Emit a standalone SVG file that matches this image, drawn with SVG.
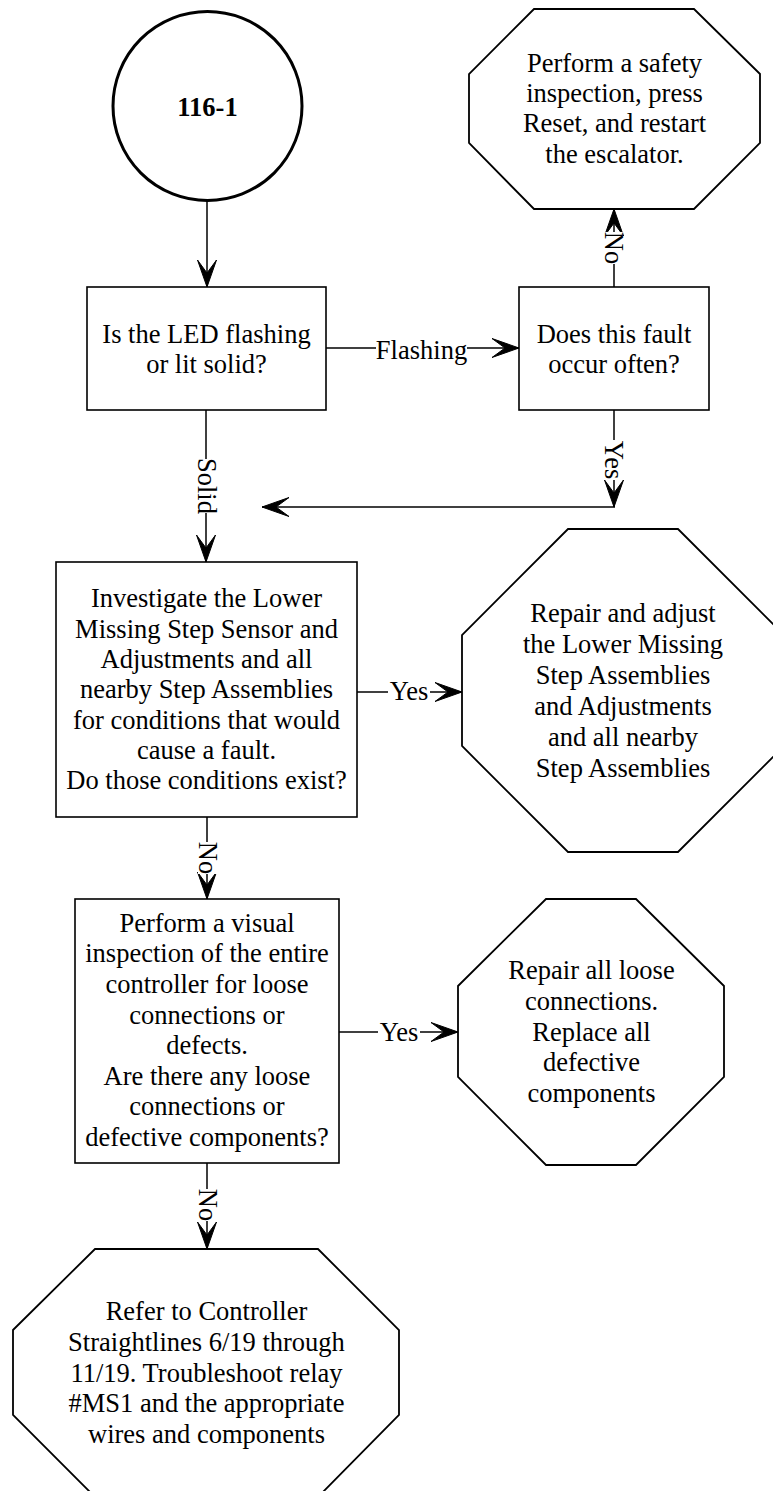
<svg xmlns="http://www.w3.org/2000/svg" width="773" height="1491" viewBox="0 0 773 1491">
  <style>
    .t { font-family: "Liberation Serif", "Times New Roman", serif; font-size: 26.5px; fill: #000; text-anchor: middle; }
    .b { font-weight: bold; }
    .box { fill: #fff; stroke: #000; stroke-width: 1.6; }
    .oct { fill: #fff; stroke: #000; stroke-width: 1.8; }
    .edge { fill: none; stroke: #000; stroke-width: 1.5; marker-end: url(#vee); }
    .plain { fill: none; stroke: #000; stroke-width: 1.5; }
    .lb { fill: #fff; stroke: none; }
  </style>
  <defs>
    <marker id="vee" viewBox="-28 -10 29 20" refX="0" refY="0" markerWidth="29" markerHeight="20" markerUnits="userSpaceOnUse" orient="auto" overflow="visible">
      <path d="M0,0 L-27,-9.5 L-14,0 L-27,9.5 Z" fill="#000" stroke="#000" stroke-width="1"/>
    </marker>
  </defs>

  <rect width="773" height="1491" fill="#fff"/>

  <!-- connectors -->
  <g id="connectors">
    <path class="edge" d="M207,201 L207,287"/>
    <path class="edge" d="M326,348 L519,348"/>
    <path class="edge" d="M614,287 L614,209"/>
    <path class="edge" d="M614,410 L614,507"/>
    <path class="edge" d="M615,507 L262,507"/>
    <path class="edge" d="M206,410 L206,562"/>
    <path class="edge" d="M357,692 L462,692"/>
    <path class="edge" d="M207,817 L207,899"/>
    <path class="edge" d="M339,1032 L458,1032"/>
    <path class="edge" d="M207,1163 L207,1249"/>

    <!-- edge labels -->
    <g>
      <rect class="lb" x="376" y="338" width="91" height="26"/>
      <text class="t" x="421.5" y="359">Flashing</text>
    </g>
    <g transform="translate(613,248) rotate(90)">
      <rect class="lb" x="-16" y="-10" width="32" height="19"/>
      <text class="t" x="0" y="8">No</text>
    </g>
    <g transform="translate(613,460) rotate(90)">
      <rect class="lb" x="-20" y="-10" width="40" height="19"/>
      <text class="t" x="0" y="8">Yes</text>
    </g>
    <g transform="translate(206,486) rotate(90)">
      <rect class="lb" x="-27" y="-11" width="54" height="20"/>
      <text class="t" x="0" y="8">Solid</text>
    </g>
    <g>
      <rect class="lb" x="388" y="680" width="42" height="24"/>
      <text class="t" x="409" y="700">Yes</text>
    </g>
    <g transform="translate(207,858) rotate(90)">
      <rect class="lb" x="-16" y="-10" width="32" height="19"/>
      <text class="t" x="0" y="8">No</text>
    </g>
    <g>
      <rect class="lb" x="378" y="1020" width="42" height="24"/>
      <text class="t" x="399" y="1040.5">Yes</text>
    </g>
    <g transform="translate(207,1205) rotate(90)">
      <rect class="lb" x="-16" y="-10" width="32" height="19"/>
      <text class="t" x="0" y="8">No</text>
    </g>
  </g>

  <!-- start connector circle -->
  <g id="start">
    <circle cx="207.5" cy="106" r="94.5" fill="#fff" stroke="#000" stroke-width="3"/>
    <text class="t b" x="207.5" y="116">116-1</text>
  </g>

  <g id="led-state">
    <rect class="box" x="87" y="287" width="239" height="123"/>
    <text class="t" x="206.5" y="342.7">Is the LED flashing</text>
    <text class="t" x="206.5" y="373.3">or lit solid?</text>
  </g>

  <g id="fault-often">
    <rect class="box" x="519" y="287" width="190" height="123"/>
    <text class="t" x="614" y="342.7">Does this fault</text>
    <text class="t" x="614" y="373.3">occur often?</text>
  </g>

  <g id="safety-reset">
    <polygon class="oct" points="534,9 694,9 760,74 760,143 694,209 534,209 469,143 469,74"/>
    <text class="t" x="614.5" y="71.7">Perform a safety</text>
    <text class="t" x="614.5" y="102">inspection, press</text>
    <text class="t" x="614.5" y="132.4">Reset, and restart</text>
    <text class="t" x="614.5" y="163">the escalator.</text>
  </g>

  <g id="investigate">
    <rect class="box" x="56" y="562" width="301" height="255"/>
    <text class="t" x="206.5" y="607.3">Investigate the Lower</text>
    <text class="t" x="206.5" y="637.6">Missing Step Sensor and</text>
    <text class="t" x="206.5" y="667.9">Adjustments and all</text>
    <text class="t" x="206.5" y="698.2">nearby Step Assemblies</text>
    <text class="t" x="206.5" y="728.5">for conditions that would</text>
    <text class="t" x="206.5" y="758.8">cause a fault.</text>
    <text class="t" x="206.5" y="789.1">Do those conditions exist?</text>
  </g>

  <g id="repair-adjust">
    <polygon class="oct" points="568,529 678,529 784,635 784,746 678,852 568,852 462,746 462,635"/>
    <text class="t" x="623" y="621.7">Repair and adjust</text>
    <text class="t" x="623" y="652.7">the Lower Missing</text>
    <text class="t" x="623" y="683.7">Step Assemblies</text>
    <text class="t" x="623" y="714.7">and Adjustments</text>
    <text class="t" x="623" y="745.7">and all nearby</text>
    <text class="t" x="623" y="776.7">Step Assemblies</text>
  </g>

  <g id="visual-inspection">
    <rect class="box" x="75" y="899" width="264" height="264"/>
    <text class="t" x="207" y="931.7">Perform a visual</text>
    <text class="t" x="207" y="962.3">inspection of the entire</text>
    <text class="t" x="207" y="992.9">controller for loose</text>
    <text class="t" x="207" y="1023.5">connections or</text>
    <text class="t" x="207" y="1054.1">defects.</text>
    <text class="t" x="207" y="1084.7">Are there any loose</text>
    <text class="t" x="207" y="1115.3">connections or</text>
    <text class="t" x="207" y="1145.9">defective components?</text>
  </g>

  <g id="repair-connections">
    <polygon class="oct" points="546,899 636,899 724,986 724,1077 636,1165 546,1165 458,1077 458,986"/>
    <text class="t" x="591.5" y="979.3">Repair all loose</text>
    <text class="t" x="591.5" y="1010">connections.</text>
    <text class="t" x="591.5" y="1040.7">Replace all</text>
    <text class="t" x="591.5" y="1071.4">defective</text>
    <text class="t" x="591.5" y="1102.1">components</text>
  </g>

  <g id="straightlines">
    <polygon class="oct" points="95,1249 318,1249 399,1330 399,1415 318,1497 95,1497 13,1415 13,1330"/>
    <text class="t" x="206.5" y="1320">Refer to Controller</text>
    <text class="t" x="206.5" y="1350.8">Straightlines 6/19 through</text>
    <text class="t" x="206.5" y="1381.6">11/19. Troubleshoot relay</text>
    <text class="t" x="206.5" y="1412.4">#MS1 and the appropriate</text>
    <text class="t" x="206.5" y="1443.2">wires and components</text>
  </g>
</svg>
